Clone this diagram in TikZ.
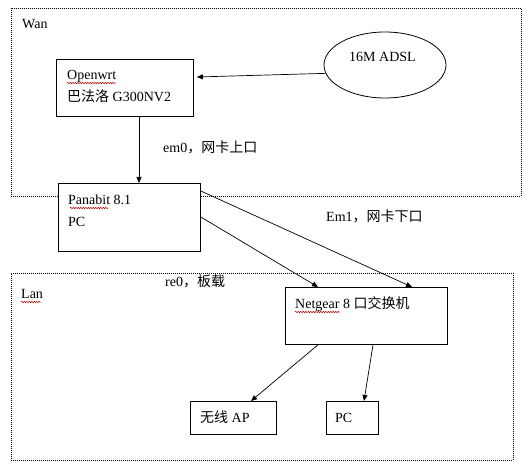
\documentclass[tikz,border=0pt]{standalone}
\usepackage{fontspec}
\setmainfont{Liberation Serif}
\newfontfamily\cjk{Noto Sans CJK SC}
\usetikzlibrary{arrows.meta,calc,shapes.geometric,decorations.pathmorphing}
\begin{document}
\begin{tikzpicture}[x=1pt,y=-1pt,
 box/.style={draw,fill=white,line width=0.8pt,inner sep=0,anchor=north west},
 zone/.style={draw,dash pattern=on 1pt off 1pt,line width=0.8pt,inner sep=0,anchor=north west},
 txt/.style={anchor=base west,inner sep=0,font=\fontsize{14}{16}\selectfont},
 arr/.style={line width=0.7pt,-{Triangle[length=6pt,width=5pt]}},
 wavy/.style={draw=red!75!black,line width=0.5pt,decorate,decoration={snake,amplitude=0.7pt,segment length=2.5pt}}]
\useasboundingbox (0,0) rectangle (532,470);
\fill[white] (0,0) rectangle (532,470);
% zones
\node[zone,minimum width=510pt,minimum height=188pt] (wan) at (11,8) {};
\node[zone,minimum width=502pt,minimum height=187pt] (lan) at (11,273) {};
\node[txt] (want) at (22,29) {Wan};
\node[txt] (lant) at (21,298) {Lan};
% boxes
\node[box,minimum width=137pt,minimum height=57pt] (ow) at (56,59) {};
\node[box,minimum width=142pt,minimum height=68pt] (pb) at (58,183) {};
\node[box,minimum width=162pt,minimum height=57pt] (ng) at (285,287) {};
\node[box,minimum width=86pt,minimum height=33pt] (ap) at (190,401) {};
\node[box,minimum width=52pt,minimum height=33pt] (pc) at (326,401) {};
\node[draw,ellipse,line width=0.8pt,inner sep=0,minimum width=122pt,minimum height=66pt] (adsl) at (385,65) {};
% texts
\node[txt] (owt1) at (67,80) {Openwrt};
\node[txt] (owt2) at (67,102) {{\cjk 巴法洛} G300NV2};
\node[txt] (pbt1) at (68,205) {Panabit 8.1};
\node[txt] (pbt2) at (68,226) {PC};
\node[txt] (ngt) at (295,308) {Netgear 8 {\cjk 口交换机}};
\node[txt] (apt) at (200,422) {{\cjk 无线} AP};
\node[txt] (pct) at (335,422) {PC};
\node[txt] (adslt) at (349,62) {16M ADSL};
\node[txt] (em0) at (163,153) {em0{\cjk ，网卡上口}};
\node[txt] (em1) at (326,222) {Em1{\cjk ，网卡下口}};
\node[txt] (re0) at (165,286) {re0{\cjk ，板载}};
% spell-check underlines
\draw[wavy] ($(owt1.base west)+(0,3)$) -- ++(49,0);
\draw[wavy] ($(pbt1.base west)+(2,3)$) -- ++(38,0);
\draw[wavy] ($(ngt.base west)+(0,4)$) -- ++(45,0);
\draw[wavy] ($(lant.base west)+(0,4)$) -- ++(20,0);
% connectors
\draw[arr] (adsl.188) -- ($(ow.north east)+(3,18)$);
\draw[arr] ($(ow.south west)+(83,0)$) -- ($(pb.north west)+(81,0)$);
\draw[arr] ($(pb.north east)+(0,8)$) -- ($(ng.north west)+(127,0)$);
\draw[arr] ($(pb.north east)+(0,34)$) -- ($(ng.north west)+(33,0)$);
\draw[arr] ($(ng.south west)+(33,0)$) -- ($(ap.north west)+(61,0)$);
\draw[arr] ($(ng.south west)+(88,0)$) -- ($(pc.north west)+(38,0)$);
\end{tikzpicture}
\end{document}
